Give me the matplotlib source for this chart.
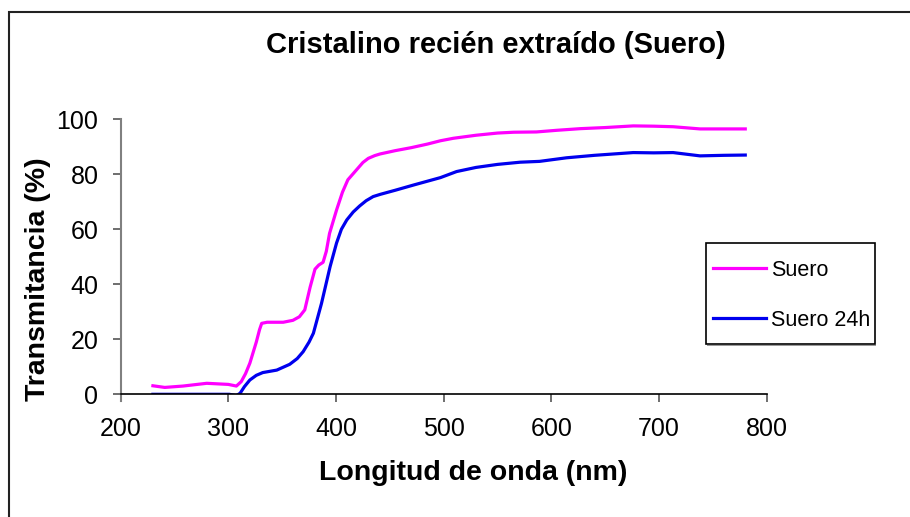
import matplotlib
matplotlib.use("Agg")
import matplotlib.pyplot as plt
from matplotlib.patches import Rectangle

plt.rcParams['font.family'] = ['Liberation Sans', 'DejaVu Sans']

# Data
wl_suero = [230, 241, 258, 280, 300, 307.5, 312, 316, 320, 326, 329, 331, 336, 351, 360, 366, 371, 376, 380.5,
            384, 388, 391, 394, 400.5, 406, 411, 419, 425, 430, 436, 441, 455, 470, 485, 497, 509, 530, 550, 565, 586,
            605, 627, 650, 676, 695, 713, 738, 760, 780]
t_suero = [3.1, 2.5, 3.0, 4.0, 3.6, 3.0, 4.6, 7.5, 11.3, 19, 23.5, 25.8, 26.2, 26.2, 26.9, 28.2, 30.7, 39, 45.5,
           47.0, 48, 52, 58.5, 67, 73.5, 78, 81.6, 84.3, 85.8, 86.8, 87.4, 88.6, 89.7, 91.0, 92.2, 93.1, 94.2, 95.0, 95.3, 95.4,
           96.0, 96.6, 97.0, 97.6, 97.5, 97.3, 96.5, 96.5, 96.5]

wl_24h = [230, 250, 280, 301, 307.5, 311, 315, 320, 326, 332, 345, 357, 364, 369.5, 375, 379, 386.5, 394.5, 400.5,
          405, 410, 416, 422, 428, 434.5, 441, 455, 472, 497, 512, 530, 550, 571, 589, 614, 640, 676, 695, 713,
          738, 760, 780]
t_24h = [0, 0, 0, 0, -0.5, 0.4, 2.8, 5.2, 6.9, 7.9, 8.8, 10.9, 13.0, 15.5, 19.0, 22.2, 33, 46.4, 55,
         60.0, 63.4, 66.3, 68.5, 70.4, 71.9, 72.7, 74.2, 76.1, 78.8, 81.0, 82.5, 83.6, 84.4, 84.7, 86.0, 86.9, 87.9, 87.8, 87.9,
         86.7, 86.9, 87.0]

xticks = [200, 300, 400, 500, 600, 700, 800]
yticks = [0, 20, 40, 60, 80, 100]

W, H = 910, 517
fig = plt.figure(figsize=(W / 100, H / 100), dpi=100)

# chart area border
fig.patches.append(Rectangle((9 / W, -0.1), 1.2, (H - 11.5) / H + 0.1, transform=fig.transFigure,
                             fill=False, edgecolor='#222222', linewidth=1.5))

ax = fig.add_axes([120.6 / W, 1 - 394.3 / H, (766.8 - 120.6) / W, (394.3 - 119.3) / H])
ax.plot(wl_suero, t_suero, color='#ff00ff', linewidth=2.3, label='Suero', solid_joinstyle='round')
ax.plot(wl_24h, t_24h, color='#0000ee', linewidth=2.3, label='Suero 24h', solid_joinstyle='round')
ax.set_xlim(200, 800)
ax.set_ylim(0, 100)
ax.set_xticks(xticks)
ax.set_yticks(yticks)
ax.set_xticklabels([str(v) for v in xticks])
ax.set_yticklabels([str(v) for v in yticks])
for s in ['top', 'right']:
    ax.spines[s].set_visible(False)
ax.spines['left'].set_color('#808080')
ax.spines['left'].set_linewidth(1.5)
ax.spines['bottom'].set_color('black')
ax.spines['bottom'].set_linewidth(1.2)
ax.spines['left'].set_bounds(-2.5, 100)
ax.tick_params(axis='x', direction='out', length=6, width=1.2, color='#555555', labelsize=18, pad=10)
ax.tick_params(axis='y', direction='out', length=6, width=1.2, color='#555555', labelsize=18, pad=10)

fig.text(496 / W, 1 - 45 / H, 'Cristalino recién extraído (Suero)', ha='center', va='center',
         fontsize=21, fontweight='bold')
fig.text(473 / W, 1 - 473 / H, 'Longitud de onda (nm)', ha='center', va='center',
         fontsize=20.5, fontweight='bold')
fig.text(38 / W, 1 - 279 / H, 'Transmitancia (%)', ha='center', va='center', rotation=90,
         fontsize=20.5, fontweight='bold')

# legend frame
fig.patches.append(Rectangle((706 / W, 1 - 344 / H), (875 - 706) / W, (344 - 243.3) / H,
                             transform=fig.transFigure, fill=True, facecolor='white',
                             edgecolor='black', linewidth=1.2, zorder=5))
fig.patches.append(Rectangle((707 / W, 1 - 346 / H), (875 - 706) / W, 1.5 / H,
                             transform=fig.transFigure, fill=True, facecolor='#999999',
                             edgecolor='none', zorder=4))
handles, labels = ax.get_legend_handles_labels()
leg = fig.legend(handles, labels, loc='upper left', bbox_to_anchor=(713 / W, 1 - 259.5 / H),
                 bbox_transform=fig.transFigure,
                 fontsize=15.5, frameon=False, borderpad=0,
                 labelspacing=1.37, handlelength=2.45, handletextpad=0.25, borderaxespad=0)
leg.set_zorder(6)

fig.savefig('out.png', dpi=100)
